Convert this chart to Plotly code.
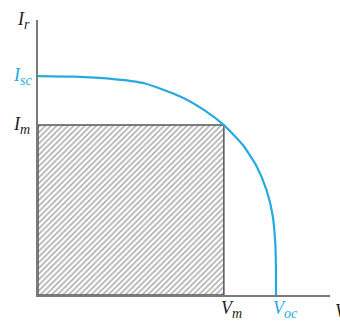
import plotly.graph_objects as go

# Solar-cell I–V characteristic (normalised: V / Voc, I / Isc)
voltage = [0.0, 0.15, 0.3, 0.45, 0.6, 0.7, 0.781, 0.86, 0.92, 0.96,
           0.985, 0.997, 1.0, 1.0]
current = [1.0, 0.997, 0.988, 0.966, 0.905, 0.843, 0.776, 0.686, 0.585, 0.48,
           0.37, 0.24, 0.11, 0.0]

V_OC = 1.0
I_SC = 1.0
V_M = 0.781
I_M = 0.776

X_MAX = 1.227
Y_MAX = 1.256

BLUE = "#27a9e1"
GREY = "#7a7a7a"
SERIF = "Liberation Serif, DejaVu Serif, serif"

fig = go.Figure()

# Maximum-power rectangle, hatched
fig.add_trace(go.Scatter(
    x=[0, V_M, V_M, 0, 0], y=[0, 0, I_M, I_M, 0],
    mode="lines", fill="toself",
    line=dict(color="#555555", width=1.5),
    fillcolor="white",
    fillpattern=dict(shape="/", fgcolor="#5e5e5e", bgcolor="white",
                     size=4, solidity=0.4),
    hoverinfo="skip", showlegend=False,
))

# I–V curve
fig.add_trace(go.Scatter(
    x=voltage, y=current, mode="lines",
    line=dict(color=BLUE, width=2.2, shape="spline", smoothing=0.6),
    showlegend=False,
))

fig.update_xaxes(range=[0, X_MAX], showgrid=False, zeroline=False,
                 showticklabels=False, ticks="",
                 showline=True, linecolor=GREY, linewidth=1.5)
fig.update_yaxes(range=[0, Y_MAX], showgrid=False, zeroline=False,
                 showticklabels=False, ticks="",
                 showline=True, linecolor=GREY, linewidth=1.5)

def lab(text, x, y, color="#1e1e1e", xanchor="center", yanchor="middle",
        xshift=0, yshift=0):
    fig.add_annotation(text=text, x=x, y=y, xref="x", yref="y",
                       showarrow=False, xanchor=xanchor, yanchor=yanchor,
                       xshift=xshift, yshift=yshift,
                       font=dict(family=SERIF, size=18, color=color))

SUB = "<sub><span style='font-size:14px'>{}</span></sub>"

lab("<i>I" + SUB.format("r") + "</i>", 0, Y_MAX, xanchor="right", xshift=-6, yshift=0)
lab("<i>I" + SUB.format("sc") + "</i>", 0, I_SC, color=BLUE, xanchor="right", xshift=-4)
lab("<i>I" + SUB.format("m") + "</i>", 0, I_M, xanchor="right", xshift=-6)
lab("<i>V" + SUB.format("m") + "</i>", V_M, 0, yanchor="top", xshift=8, yshift=-1)
lab("<i>V" + SUB.format("oc") + "</i>", V_OC, 0, color=BLUE, yanchor="top", xshift=10, yshift=-1)
lab("<i>V</i>", X_MAX, 0, xanchor="left", yanchor="top", xshift=3, yshift=-4)

fig.update_layout(
    width=340, height=322,
    margin=dict(l=38, r=10, t=20, b=27),
    paper_bgcolor="white", plot_bgcolor="white",
)

fig.write_html("out.html")
